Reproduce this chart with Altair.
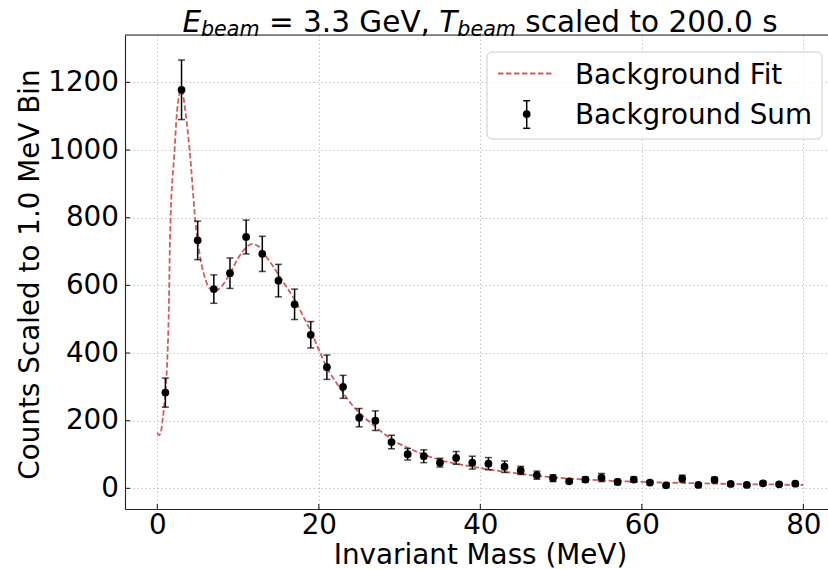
import altair as alt
import pandas as pd

# ---------------- data ----------------
mass = [1, 3, 5, 7, 9, 11, 13, 15, 17, 19, 21, 23, 25, 27, 29, 31, 33, 35, 37, 39,
        41, 43, 45, 47, 49, 51, 53, 55, 57, 59, 61, 63, 65, 67, 69, 71, 73, 75, 77, 79]
counts = [283, 1178, 733, 589, 636, 743, 693, 614, 544, 454, 358, 300, 209, 200, 137, 101, 95, 76, 90, 76,
          73, 64, 53, 39, 30, 21, 26, 32, 19, 26, 17, 9, 29, 10, 25, 13, 10, 15, 12, 14]
errors = [43, 88, 57, 42, 45, 50, 52, 48, 45, 39, 36, 34, 27, 29, 20, 17, 19, 13, 19, 19,
          18, 17, 12, 12, 10, 6, 8, 12, 8, 8, 6, 5, 10, 5, 8, 5, 5, 6, 5, 6]

fit_x = [0.0, 0.2, 0.4, 0.66, 1.0, 1.2, 1.4, 1.6, 2.14, 2.43, 2.97, 3.5, 4.0, 4.82, 5.5, 6.0, 6.5, 7.05,
         7.5, 8.0, 9.0, 10.0, 11.0, 11.7, 12.5, 13.0, 14.0, 15.0, 16.0, 17.0, 18.0, 19.0, 20.0, 21.0,
         22.0, 23.0, 24.0, 25.0, 26.0, 27.0, 28.0, 29.0, 31, 33, 35, 37, 39, 41, 43, 45, 47, 49, 51,
         53, 55, 57, 59, 61, 63, 65, 67, 69, 71, 73, 75, 77, 80]
fit_y = [165, 157, 162, 203, 283, 360, 500, 765, 1000, 1110, 1180, 1110, 1000, 765, 660, 615, 590, 583,
         587, 598, 635, 680, 712, 722, 716, 700, 668, 632, 595, 558, 512, 465, 410, 357,
         318, 283, 250, 224, 202, 182, 163, 145, 120, 100, 84, 73, 64, 56, 49, 43, 37, 33, 29,
         26, 24, 21, 20, 18, 17, 16, 15, 14, 13, 12, 12, 11, 10]

x_ticks = [0, 20, 40, 60, 80]
y_ticks = [0, 200, 400, 600, 800, 1000, 1200]

legend_labels = ["Background Fit", "Background Sum"]
x_title = "Invariant Mass (MeV)"
y_title = "Counts Scaled to 1.0 MeV Bin"

# ---------------- layout ----------------
W, H = 703, 474
FONT = "DejaVu Sans"
FS = 27.8
RED = "#d65c5c"
xs = alt.Scale(domain=[-4, 83.05], nice=False, zero=False)
ys = alt.Scale(domain=[-61, 1340], nice=False, zero=False)

pts = pd.DataFrame({"x": mass, "y": counts, "err": errors})
pts["lo"] = pts["y"] - pts["err"]
pts["hi"] = pts["y"] + pts["err"]
fit = pd.DataFrame({"x": fit_x, "y": fit_y})
one = pd.DataFrame({"a": [0]})

x_axis = alt.Axis(values=x_ticks, title=x_title, format="d", grid=True, gridColor="#c4c4c4",
                  gridDash=[1.5, 2.5], gridWidth=1, ticks=False, tickSize=0, labelFont=FONT,
                  labelFontSize=FS, labelColor="black", labelBaseline="alphabetic", labelPadding=24,
                  titleFont=FONT, titleFontSize=FS, titleFontWeight="normal", titleColor="black",
                  titleX=355, titleY=54, titleBaseline="alphabetic", titleAnchor="middle",
                  domainColor="#222", domainWidth=1.1, labelFlush=False, labelOverlap=False)
y_axis = alt.Axis(values=y_ticks, title=y_title, format="d", grid=True, gridColor="#c4c4c4",
                  gridDash=[1.5, 2.5], gridWidth=1, ticks=False, tickSize=0, labelFont=FONT,
                  labelFontSize=FS, labelColor="black", labelPadding=6.5, labelBaseline="middle",
                  titleFont=FONT, titleFontSize=FS, titleFontWeight="normal", titleColor="black",
                  titleX=-87, titleY=H / 2 + 2, titleBaseline="alphabetic", titleAngle=270,
                  titleAnchor="middle",
                  domainColor="#222", domainWidth=1.1, labelFlush=False, labelOverlap=False)


def X(field):
    return alt.X(field, scale=xs, axis=x_axis, title=x_title)


def Y(field):
    return alt.Y(field, scale=ys, axis=y_axis, title=y_title)


fit_line = alt.Chart(fit).mark_line(color=RED, strokeWidth=1.8, strokeDash=[5.5, 2.5],
                                    interpolate="monotone").encode(x=X("x:Q"), y=Y("y:Q"))
bars = alt.Chart(pts).mark_rule(color="black", strokeWidth=1.5).encode(
    x=X("x:Q"), y=Y("lo:Q"), y2="hi:Q")
cap_lo = alt.Chart(pts).mark_tick(color="black", orient="horizontal", size=7, thickness=1.5).encode(
    x=X("x:Q"), y=Y("lo:Q"))
cap_hi = alt.Chart(pts).mark_tick(color="black", orient="horizontal", size=7, thickness=1.5).encode(
    x=X("x:Q"), y=Y("hi:Q"))
dots = alt.Chart(pts).mark_circle(color="black", opacity=1, size=60).encode(
    x=X("x:Q"), y=Y("y:Q"))

# inward tick marks
xt = pd.DataFrame({"v": x_ticks})
yt = pd.DataFrame({"v": y_ticks})
xtick_marks = alt.Chart(xt).mark_rule(color="#222", strokeWidth=1.1).encode(
    x=X("v:Q"), y=alt.value(H), y2=alt.value(H - 5))
ytick_marks = alt.Chart(yt).mark_rule(color="#222", strokeWidth=1.1).encode(
    y=Y("v:Q"), x=alt.value(0), x2=alt.value(5))
top_spine = alt.Chart(one).mark_rule(color="#222", strokeWidth=1.1).encode(
    x=alt.value(0), x2=alt.value(W), y=alt.value(0))

# legend
leg_box = alt.Chart(one).mark_rect(fill="white", fillOpacity=0.8, stroke="#cccccc", strokeWidth=1,
                                   cornerRadius=5).encode(
    x=alt.value(362), x2=alt.value(697), y=alt.value(17), y2=alt.value(104))
leg_line = alt.Chart(one).mark_rule(color=RED, strokeWidth=1.8, strokeDash=[5.5, 2.5]).encode(
    x=alt.value(373), x2=alt.value(428), y=alt.value(38.5))
leg_bar = alt.Chart(one).mark_rule(color="black", strokeWidth=1.5).encode(
    x=alt.value(401.7), y=alt.value(65.7), y2=alt.value(93.3))
leg_cap1 = alt.Chart(one).mark_rule(color="black", strokeWidth=1.5).encode(
    x=alt.value(398.2), x2=alt.value(405.2), y=alt.value(65.7))
leg_cap2 = alt.Chart(one).mark_rule(color="black", strokeWidth=1.5).encode(
    x=alt.value(398.2), x2=alt.value(405.2), y=alt.value(93.3))
leg_dot = alt.Chart(one).mark_circle(color="black", opacity=1, size=60).encode(
    x=alt.value(401.7), y=alt.value(79))
leg_t1 = alt.Chart(one).mark_text(text=legend_labels[0], font=FONT, fontSize=FS, align="left",
                                  baseline="alphabetic", color="black").encode(
    x=alt.value(450), y=alt.value(48.5))
leg_t2 = alt.Chart(one).mark_text(text=legend_labels[1], font=FONT, fontSize=FS, align="left",
                                  baseline="alphabetic", color="black").encode(
    x=alt.value(450), y=alt.value(88.5))

# title built from pieces (math-style subscripts)
adv = {" ": .318, "=": .838, "3": .636, ".": .318, "G": .775, "e": .615, "V": .684, ",": .318,
       "s": .521, "c": .550, "a": .613, "l": .278, "d": .635, "t": .392, "o": .612, "2": .636,
       "0": .636, "E": .632, "T": .611, "b": .635, "m": .974}
TS = 29.5
SS = TS * 0.7


def width(s, size):
    return sum(adv[c] for c in s) * size


pieces = [("E", TS, "italic", 0), ("beam", SS, "italic", 4.5), (" ", TS, "normal", 0),
          ("= 3.3 GeV,", TS, "normal", 0), (" ", TS, "normal", 0), ("T", TS, "italic", 0),
          ("beam", SS, "italic", 4.5), (" ", TS, "normal", 0), ("scaled to 200.0 s", TS, "normal", 0)]
total = sum(width(p[0], p[1]) for p in pieces)
cx = 480 - 125 - total / 2
title_layers = []
base_y = -3.3
for text, size, style, dy in pieces:
    if text.strip():
        title_layers.append(
            alt.Chart(one).mark_text(text=text, font=FONT, fontSize=size, fontStyle=style,
                                     align="left", baseline="alphabetic", color="black").encode(
                x=alt.value(cx), y=alt.value(base_y + dy)))
    cx += width(text, size)

chart = alt.layer(
    fit_line, bars, cap_lo, cap_hi, dots, xtick_marks, ytick_marks, top_spine,
    leg_box, leg_line, leg_bar, leg_cap1, leg_cap2, leg_dot, leg_t1, leg_t2, *title_layers
).properties(
    width=W, height=H, autosize="none",
    padding={"left": 125, "top": 35, "right": 0, "bottom": 60},
).configure_view(stroke=None).configure(background="white")

chart.save("out.html", embed_options={"renderer": "svg", "actions": False})
